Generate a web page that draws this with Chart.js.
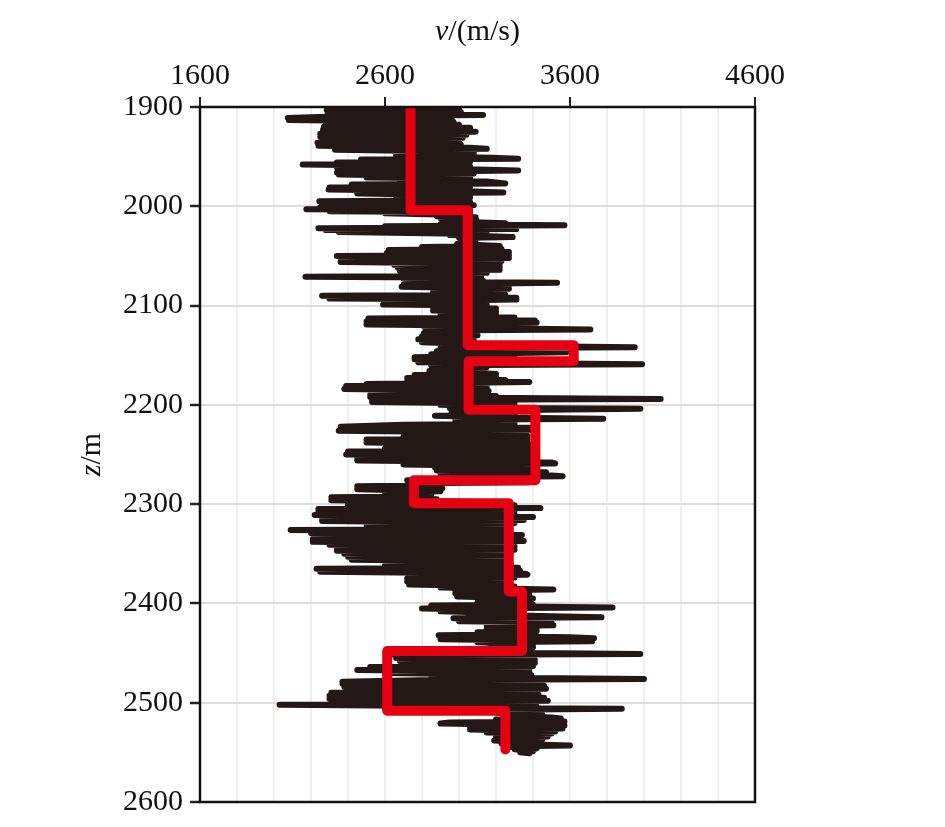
<!DOCTYPE html>
<html>
<head>
<meta charset="utf-8">
<script src="https://cdn.jsdelivr.net/npm/chart.js@4/dist/chart.umd.min.js"></script>
<style>
  html, body { margin: 0; padding: 0; background: #fff; }
  #wrap { width: 945px; height: 827px; }
</style>
</head>
<body>
<div id="wrap"><canvas id="logChart" width="945" height="827"></canvas></div>
<script>
// velocity log: depth (m) and velocity (m/s)
const logDepth = [
  1901, 1902, 1903, 1905, 1906, 1908, 1909, 1911, 1912, 1913, 1915, 1917, 1918, 1920, 1921, 1923, 1925, 1927, 1928, 1930,
  1931, 1933, 1935, 1936, 1938, 1939, 1941, 1942, 1943, 1945, 1946, 1948, 1949, 1951, 1952, 1953, 1955, 1956, 1957, 1958,
  1960, 1961, 1963, 1964, 1966, 1967, 1968, 1970, 1971, 1972, 1974, 1975, 1977, 1978, 1980, 1981, 1982, 1983, 1985, 1986,
  1987, 1989, 1990, 1991, 1992, 1994, 1995, 1996, 1998, 1999, 2001, 2002, 2003, 2004,
  2005, 2006, 2007, 2009, 2010, 2011, 2012, 2014, 2015, 2017, 2018, 2019, 2020, 2021, 2022, 2023, 2024, 2025, 2026, 2028,
  2029, 2031, 2032, 2034, 2035, 2037, 2038, 2040, 2041, 2043, 2044, 2046, 2047, 2049, 2050, 2052, 2053, 2055, 2056, 2058,
  2059, 2061, 2062, 2064, 2065, 2067, 2068, 2070, 2071, 2072, 2073, 2075, 2076, 2077, 2079, 2080, 2081, 2083, 2084, 2086,
  2087, 2089, 2090, 2092, 2093, 2094, 2096, 2097, 2099, 2100, 2102, 2103, 2105, 2106, 2108, 2109, 2111, 2112, 2113, 2115,
  2116, 2117, 2119, 2120, 2121, 2123, 2124, 2125, 2127, 2128, 2130, 2131, 2133, 2134, 2136, 2137, 2139, 2140, 2142, 2143,
  2145, 2146, 2147, 2149, 2150, 2152, 2153, 2154, 2156, 2157, 2159, 2160, 2162, 2163, 2165, 2166, 2168, 2169, 2170, 2172,
  2173, 2175, 2176, 2177, 2179, 2180, 2181, 2183, 2184, 2186, 2187, 2188, 2190, 2191, 2192, 2194, 2195, 2196, 2197, 2199,
  2200, 2202, 2203, 2204, 2206, 2207, 2208, 2210, 2211, 2213, 2214, 2215, 2217, 2218, 2219, 2220, 2222, 2223, 2224,
  2225, 2226, 2228, 2229, 2231, 2232, 2234, 2235, 2237, 2238, 2240, 2241, 2243, 2244, 2246, 2247, 2249, 2250, 2252, 2253,
  2255, 2256, 2258, 2259, 2260, 2262, 2263, 2265, 2266, 2268, 2269, 2271, 2272, 2273, 2275, 2276, 2278, 2279, 2281, 2282,
  2284, 2285, 2287, 2288, 2290, 2291, 2292, 2293, 2295, 2296, 2298, 2299, 2301, 2302, 2304, 2305, 2307, 2308, 2310, 2311,
  2313, 2314, 2316, 2317, 2319, 2320, 2322, 2323, 2325, 2326, 2328, 2329, 2331, 2332, 2334,
  2335, 2337, 2338, 2340, 2341, 2343, 2344, 2346, 2347, 2349, 2350, 2352, 2353, 2355, 2356, 2358, 2359, 2361, 2362, 2364,
  2365, 2367, 2368, 2370, 2371, 2372, 2374, 2375, 2377, 2378, 2380, 2381, 2383, 2384, 2386, 2387, 2389, 2390, 2392, 2393,
  2395, 2396, 2398, 2399, 2401, 2402, 2404, 2405, 2407, 2408, 2410, 2411, 2413, 2414, 2415, 2417, 2418, 2419, 2420, 2422,
  2423, 2425, 2426, 2428, 2429, 2431, 2432, 2434, 2435, 2436, 2438, 2439, 2441, 2442, 2444,
  2445, 2447, 2448, 2450, 2451, 2452, 2454, 2455, 2457, 2458, 2460, 2461, 2463, 2464, 2466, 2467, 2469, 2470, 2472, 2473,
  2475, 2476, 2477, 2479, 2480, 2481, 2483, 2484, 2486, 2487, 2489, 2490, 2492, 2493, 2495, 2496, 2498, 2499, 2501, 2502,
  2504, 2505, 2506, 2507, 2509, 2510, 2512, 2513, 2515, 2516, 2517, 2519, 2520, 2521, 2523, 2524, 2526, 2527, 2529, 2530,
  2531, 2532, 2534, 2535, 2537, 2538, 2540, 2541, 2543, 2544, 2546, 2547, 2549, 2550, 2551
];
const logVel = [
  2290, 3000, 2285, 3010, 2290, 3130, 2400, 2075, 2960, 2080, 2970, 2280, 3000, 2270, 3060, 2265, 3090, 2250, 3040, 2250,
  3020, 2260, 3000, 2235, 3010, 2240, 3060, 3150, 2330, 3080, 2660, 3080, 2660, 3180, 3320, 2470, 3060, 2340, 3050, 2155,
  3060, 2340, 3100, 3320, 2340, 3080, 2350, 3040, 2500, 3060, 2680, 3150, 3250, 2420, 3060, 2300, 3040, 2295, 3080, 3240,
  2450, 3040, 2660, 3060, 2660, 3040, 2245, 3060, 2260, 3080, 2250, 3050, 2175, 3060,
  2300, 3060, 2600, 3060, 2880, 3090, 2900, 3095, 2910, 3250, 2900, 3570, 2600, 3300, 2240, 3310, 2280, 3150, 2350, 3100,
  2950, 3290, 3000, 3090, 3010, 3090, 2990, 3220, 2800, 3230, 2620, 3270, 2610, 3270, 2340, 3270, 2360, 3230, 2360, 3220,
  2650, 3220, 2670, 3220, 2680, 3150, 2700, 3120, 2170, 3120, 2700, 3130, 2750, 3530, 2700, 3270, 2690, 3270, 2860, 3200,
  2860, 3250, 2260, 3310, 2300, 3310, 2600, 3150, 2590, 3150, 2860, 3200, 2860, 3200, 2900, 3200, 2900, 3300, 2510, 3410,
  2500, 3420, 2500, 3080, 2810, 3300, 3710, 2820, 3080, 2810, 3100, 2800, 3080, 2780, 3080, 2800, 3100, 2900, 3950, 2900,
  3200, 2880, 3580, 2850, 3300, 2760, 3300, 2760, 3300, 2780, 3990, 2850, 3150, 2900, 3100, 2840, 3100, 3200, 2760, 3200,
  2720, 3250, 2720, 3380, 2500, 3150, 2390, 3150, 2380, 3160, 2700, 3150, 2520, 3200, 2520, 4090, 2530, 3300, 2530, 3300,
  2900, 3300, 2950, 3980, 2960, 3300, 2960, 3300, 2870, 3300, 3780, 2980, 3300, 2980, 3300, 2700, 2360, 3400, 2360,
  3400, 2350, 3350, 2900, 3370, 2700, 3370, 2500, 3370, 2500, 3380, 2780, 3380, 2600, 3380, 2400, 3380, 2390, 3420, 2450,
  3420, 2450, 3500, 3520, 2700, 3400, 2870, 3400, 2880, 3470, 2900, 3480, 3560, 2960, 3380, 2720, 3380, 2750, 2900, 2450,
  2910, 2450, 2900, 2600, 2850, 2650, 2850, 2310, 2880, 2310, 3250, 2400, 3300, 2400, 3440, 2240, 3300, 2240, 3300, 2220,
  3400, 2260, 3350, 2260, 3300, 2500, 3240, 2500, 3250, 2090, 3250, 2200, 3340, 2250, 3300,
  2210, 3350, 2210, 3300, 2300, 3300, 2340, 3300, 2340, 3280, 2380, 3270, 2400, 3240, 2420, 3240, 2700, 3280, 2600, 3320,
  2230, 3330, 2250, 3360, 3370, 2800, 3300, 2720, 3250, 2720, 3280, 2730, 3300, 2900, 3510, 2980, 3380, 2980, 3380, 2990,
  3400, 3150, 3350, 3100, 3400, 2850, 3830, 2800, 3350, 2900, 3300, 3050, 3500, 3770, 2970, 3450, 3000, 3500, 3200, 3510,
  3150, 3420, 3150, 3420, 3100, 3400, 2890, 3600, 3730, 2900, 3720, 3100, 3400, 3170, 3400,
  3190, 3390, 3180, 3400, 3980, 2650, 3400, 2660, 3410, 2680, 3410, 2690, 3400, 2520, 3380, 2450, 3380, 2600, 3390, 2850,
  3400, 4000, 2850, 2370, 3400, 2370, 3460, 2380, 3470, 2400, 3420, 2310, 3430, 2300, 3460, 2300, 3480, 2450, 3400, 2030,
  3420, 2600, 3880, 3200, 3430, 3200, 3450, 3250, 3500, 3550, 3200, 3570, 2950, 2900, 3570, 3060, 3560, 3060, 3520, 3150,
  3500, 3210, 3480, 3200, 3450, 3190, 3420, 3230, 3600, 3250, 3420, 3300, 3400, 3330, 3380
];

// blocky layer model drawn in red
const layerTop = [1900, 2004, 2140, 2156, 2205, 2276, 2299, 2388, 2448, 2508];
const layerBase = [2004, 2140, 2156, 2205, 2276, 2299, 2388, 2448, 2508, 2547];
const layerVel = [2738, 3047, 3620, 3052, 3413, 2756, 3269, 3341, 2612, 3251];

// axis ticks
const velLabels = [1600, 2600, 3600, 4600];
const depthMin = 1900, depthMax = 2600;

const logPoints = logDepth.map((d, i) => ({ x: logVel[i], y: d }));
const layerPoints = [];
layerVel.forEach((v, i) => {
  layerPoints.push({ x: v, y: layerTop[i] });
  layerPoints.push({ x: v, y: layerBase[i] });
});

const SERIF = '"Liberation Serif", "Times New Roman", serif';

// frame round the plot + the two axis titles (italic symbol)
const frameAndTitles = {
  id: 'frameAndTitles',
  afterDraw(chart) {
    const { ctx, chartArea: a } = chart;
    ctx.save();
    ctx.strokeStyle = '#111';
    ctx.lineWidth = 2.5;
    ctx.strokeRect(a.left, a.top, a.right - a.left, a.bottom - a.top);

    ctx.fillStyle = '#111';
    ctx.textBaseline = 'alphabetic';
    ctx.textAlign = 'left';
    // top title: v/(m/s)
    ctx.font = 'italic 30px ' + SERIF;
    const w1 = ctx.measureText('v').width;
    ctx.font = '30px ' + SERIF;
    const w2 = ctx.measureText('/(m/s)').width;
    let x0 = (a.left + a.right) / 2 - (w1 + w2) / 2;
    ctx.font = 'italic 30px ' + SERIF;
    ctx.fillText('v', x0, 40);
    ctx.font = '30px ' + SERIF;
    ctx.fillText('/(m/s)', x0 + w1, 40);

    // left title: z/m, rotated
    ctx.translate(100, (a.top + a.bottom) / 2);
    ctx.rotate(-Math.PI / 2);
    ctx.font = 'italic 30px ' + SERIF;
    const w3 = ctx.measureText('z').width;
    ctx.font = '30px ' + SERIF;
    const w4 = ctx.measureText('/m').width;
    x0 = -(w3 + w4) / 2;
    ctx.font = 'italic 30px ' + SERIF;
    ctx.fillText('z', x0, 0);
    ctx.font = '30px ' + SERIF;
    ctx.fillText('/m', x0 + w3, 0);
    ctx.restore();
  }
};

const ctx = document.getElementById('logChart').getContext('2d');
new Chart(ctx, {
  type: 'line',
  data: {
    datasets: [
      {
        label: 'layer velocity',
        data: layerPoints,
        borderColor: '#e50012',
        borderWidth: 10,
        borderCapStyle: 'round',
        borderJoinStyle: 'round',
        pointRadius: 0,
        tension: 0,
        fill: false,
        order: 0
      },
      {
        label: 'log velocity',
        data: logPoints,
        borderColor: '#231815',
        borderWidth: 6,
        borderCapStyle: 'round',
        borderJoinStyle: 'round',
        pointRadius: 0,
        tension: 0,
        fill: false,
        order: 1
      }
    ]
  },
  options: {
    responsive: false,
    devicePixelRatio: 1,
    animation: false,
    indexAxis: 'y',
    layout: { padding: { left: 0, top: 0, right: 190, bottom: 23 } },
    plugins: {
      legend: { display: false },
      tooltip: { enabled: false }
    },
    scales: {
      x: {
        type: 'linear',
        position: 'top',
        min: 1600,
        max: 4600,
        afterFit: (s) => { s.height = 107; },
        border: { display: false },
        grid: {
          color: '#efefef',
          lineWidth: 2,
          tickLength: 10,
          tickWidth: 2,
          tickColor: (c) => velLabels.includes(c.tick && c.tick.value) ? '#222' : 'rgba(0,0,0,0)'
        },
        ticks: {
          stepSize: 200,
          autoSkip: false,
          maxRotation: 0,
          padding: 3,
          color: '#111',
          font: { family: SERIF, size: 30 },
          callback: (v) => velLabels.includes(v) ? String(v) : ''
        }
      },
      y: {
        type: 'linear',
        position: 'left',
        reverse: true,
        min: depthMin,
        max: depthMax,
        afterFit: (s) => { s.width = 200; },
        border: { display: false },
        grid: {
          color: '#dcdcdc',
          lineWidth: 2,
          tickLength: 10,
          tickWidth: 2.5,
          tickColor: '#222'
        },
        ticks: {
          stepSize: 100,
          padding: 7,
          color: '#111',
          font: { family: SERIF, size: 30 },
          callback: (v) => String(v)
        }
      }
    }
  },
  plugins: [frameAndTitles]
});
</script>
</body>
</html>
